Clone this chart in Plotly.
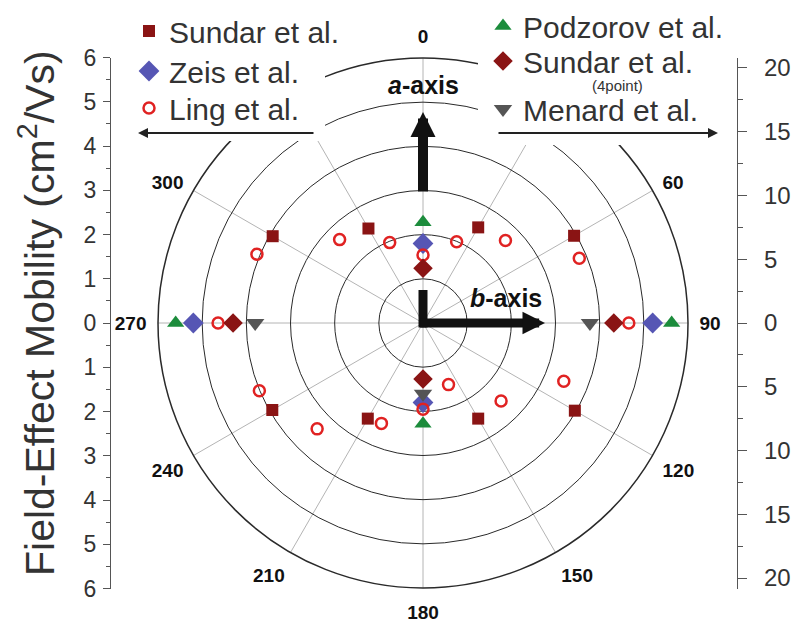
import plotly.graph_objects as go

# ---------------- data ----------------
theta_sundar = [30, 60, 120, 150, 210, 240, 300, 330]
mu_sundar = [2.5, 3.95, 3.97, 2.5, 2.5, 3.94, 3.93, 2.47]

theta_axes = [0, 90, 180, 270]
mu_zeis = [1.8, 5.2, 1.8, 5.2]
mu_podzorov = [2.28, 5.63, 2.28, 5.6]
mu_sundar4p = [1.24, 4.32, 1.27, 4.3]

theta_menard = [90, 180, 270]
mu_menard = [3.78, 1.6, 3.8]

theta_ling = [0, 22.5, 45, 67.5, 90, 112.5, 135, 157.5,
              180, 202.5, 225, 247.5, 270, 292.5, 315, 337.5]
mu_ling = [1.54, 1.99, 2.64, 3.83, 4.66, 3.45, 2.5, 1.51,
           1.95, 2.46, 3.39, 4.01, 4.64, 4.07, 2.67, 1.97]

angle_ticks = [0, 30, 60, 90, 120, 150, 180, 210, 240, 270, 300, 330]
angle_labels = ["0", "", "60", "90", "120", "150", "180", "210", "240", "270", "300", ""]

left_ticks = [-6, -5, -4, -3, -2, -1, 0, 1, 2, 3, 4, 5, 6]
left_labels = [str(abs(v)) for v in left_ticks]
right_ticks = [-20, -15, -10, -5, 0, 5, 10, 15, 20]
right_labels = [str(abs(v)) for v in right_ticks]

# ---------------- geometry helpers ----------------
W, H = 793, 622
def px(x):
    return x / W
def py(y):
    return 1 - y / H

FONT = "Liberation Sans, Arial, sans-serif"
TXT = "#333333"

fig = go.Figure()

series = [
    ("Sundar et al.", theta_sundar, mu_sundar, dict(symbol="square", size=12, color="#8a1414"), "legend"),
    ("Zeis et al.", theta_axes, mu_zeis, dict(symbol="diamond", size=16, color="#5656b4"), "legend5"),
    ("Ling et al.", theta_ling, mu_ling, dict(symbol="circle-open", size=11, color="#e02222", line=dict(width=2.5, color="#e02222")), "legend6"),
    ("Podzorov et al.", theta_axes, mu_podzorov, dict(symbol="triangle-up", size=15, color="#1c8c3c"), "legend2"),
    ("Sundar et al.", theta_axes, mu_sundar4p, dict(symbol="diamond", size=15, color="#8a1414"), "legend4"),
    ("Menard et al.", theta_menard, mu_menard, dict(symbol="triangle-down", size=16, color="#555555"), "legend3"),
]
for name, th, r, mk, lg in series:
    fig.add_trace(go.Scatterpolar(r=r, theta=th, mode="markers", name=name,
                                  marker=mk, legend=lg, hoverinfo="r+theta"))

# invisible traces to carry the two mirrored cartesian scales
fig.add_trace(go.Scatter(x=[None], y=[None], xaxis="x", yaxis="y", showlegend=False, hoverinfo="skip"))
fig.add_trace(go.Scatter(x=[None], y=[None], xaxis="x", yaxis="y2", showlegend=False, hoverinfo="skip"))

ydom = [py(588.5), py(57.5)]
LEGFONT = dict(size=30, color=TXT, family=FONT)

def leg(xpx, ytop):
    return dict(x=px(xpx), y=py(ytop), xanchor="left", yanchor="top",
                bgcolor="rgba(0,0,0,0)", font=LEGFONT, itemwidth=30, tracegroupgap=0)

fig.update_layout(
    width=W, height=H,
    margin=dict(l=0, r=0, t=0, b=0, pad=0, autoexpand=False),
    paper_bgcolor="white", plot_bgcolor="rgba(0,0,0,0)",
    font=dict(family=FONT, color=TXT),
    polar=dict(
        domain=dict(x=[px(158), px(688)], y=[py(588), py(58)]),
        bgcolor="rgba(0,0,0,0)",
        radialaxis=dict(range=[0, 6], dtick=1, showticklabels=False, ticks="",
                        showline=False, gridcolor="#2a2a2a", gridwidth=1.4),
        angularaxis=dict(rotation=90, direction="clockwise", tickmode="array",
                         tickvals=angle_ticks, ticktext=angle_labels,
                         showline=True, linecolor="#2a2a2a", linewidth=1.5,
                         gridcolor="#b4b4b4", gridwidth=1,
                         ticks="outside", ticklen=7, tickcolor="rgba(0,0,0,0)",
                         tickfont=dict(size=19, family=FONT, color="#111111", weight="bold")),
    ),
    xaxis=dict(domain=[px(100), px(760)], range=[0, 1], visible=False, fixedrange=True),
    yaxis=dict(domain=ydom, range=[-6, 6], anchor="free", position=px(110), side="left",
               automargin=False,
               tickmode="array", tickvals=left_ticks, ticktext=left_labels,
               ticks="outside", ticklen=7, tickwidth=1.3, tickcolor="#555",
               showline=True, linecolor="#555", linewidth=1.3,
               showgrid=False, zeroline=False, ticklabelstandoff=2,
               minor=dict(tickmode="linear", tick0=0, dtick=0.5, ticks="outside",
                          ticklen=4, tickcolor="#555", showgrid=False),
               tickfont=dict(size=23, color=TXT, family=FONT), fixedrange=True),
    yaxis2=dict(domain=ydom, range=[-20.82, 20.82], anchor="free", position=px(737),
                overlaying="y", side="right", automargin=False,
                tickmode="array", tickvals=right_ticks, ticktext=right_labels,
                ticks="outside", ticklen=9, tickwidth=1.3, tickcolor="#555",
                showline=True, linecolor="#555", linewidth=1.3,
                showgrid=False, zeroline=False, ticklabelstandoff=12,
                minor=dict(tickmode="linear", tick0=0, dtick=2.5, ticks="outside",
                           ticklen=5, tickcolor="#555", showgrid=False),
                tickfont=dict(size=24, color=TXT, family=FONT), fixedrange=True),
    legend=leg(129, 5),
    legend5=leg(129, 45),
    legend6=leg(129, 82),
    legend2=leg(483, 0),
    legend4=leg(483, 35),
    legend3=leg(483, 83),
    showlegend=True,
)

# white masks behind the legends (hide the grid there)
fig.add_shape(type="rect", xref="paper", yref="paper", x0=px(128), x1=px(325),
              y0=py(141), y1=py(0), fillcolor="white", line=dict(width=0), layer="above")
fig.add_shape(type="rect", xref="paper", yref="paper", x0=px(478), x1=px(705),
              y0=py(145), y1=py(0), fillcolor="white", line=dict(width=0), layer="above")

# short vertical stub at the centre (L corner)
fig.add_shape(type="line", xref="paper", yref="paper", x0=px(423), x1=px(423),
              y0=py(290), y1=py(327.5), line=dict(color="#111", width=9), layer="above")

anns = []
# thin direction arrows
anns.append(dict(x=px(138), y=py(133), ax=177, ay=0, xref="paper", yref="paper",
                 axref="pixel", ayref="pixel", text="", showarrow=True,
                 arrowhead=2, arrowsize=1, arrowwidth=2, arrowcolor="#222", standoff=0))
anns.append(dict(x=px(718), y=py(133), ax=-221, ay=0, xref="paper", yref="paper",
                 axref="pixel", ayref="pixel", text="", showarrow=True,
                 arrowhead=2, arrowsize=1, arrowwidth=2, arrowcolor="#222", standoff=0))
# thick crystal axis arrows
anns.append(dict(x=px(423), y=py(112), ax=0, ay=81, xref="paper", yref="paper",
                 text="", showarrow=True, arrowhead=2, arrowsize=0.5, arrowwidth=10,
                 arrowcolor="#111", standoff=0))
anns.append(dict(x=px(545), y=py(323), ax=-126, ay=0, xref="paper", yref="paper",
                 text="", showarrow=True, arrowhead=2, arrowsize=0.5, arrowwidth=9,
                 arrowcolor="#111", standoff=0))
# labels
anns.append(dict(x=px(423), y=py(85), xref="paper", yref="paper", showarrow=False,
                 xanchor="center", yanchor="middle",
                 text="<b><i>a</i>-axis</b>", font=dict(size=25, color="#111", family=FONT)))
anns.append(dict(x=px(506), y=py(298), xref="paper", yref="paper", showarrow=False,
                 xanchor="center", yanchor="middle",
                 text="<b><i>b</i>-axis</b>", font=dict(size=25, color="#111", family=FONT)))
anns.append(dict(x=px(617), y=py(86), xref="paper", yref="paper", showarrow=False,
                 xanchor="center", yanchor="middle",
                 text="(4point)", font=dict(size=15, color=TXT, family=FONT)))
anns.append(dict(x=px(37), y=py(313), xref="paper", yref="paper", showarrow=False,
                 xanchor="center", yanchor="middle",
                 textangle=-90, text="Field-Effect Mobility (cm<sup>2</sup>/Vs)",
                 font=dict(size=41, color=TXT, family=FONT)))
fig.update_layout(annotations=anns)

fig.write_html("out.html")
